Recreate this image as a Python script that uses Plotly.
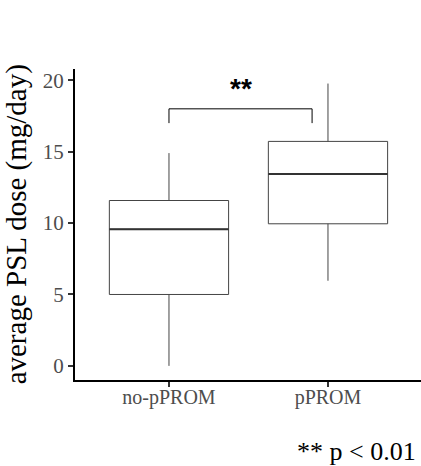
import plotly.graph_objects as go

categories = ["no-pPROM", "pPROM"]
q1 = [5.0, 9.95]
median = [9.57, 13.43]
q3 = [11.58, 15.72]
lower = [0.0, 5.96]
upper = [14.9, 19.77]

bracket_pos = [0, 0.9]
bracket_top = 18.0
bracket_bottom = 17.0
sig_label = "**"
footnote = "** p < 0.01"
y_title = "average PSL dose (mg/day)"
y_ticks = [0, 5, 10, 15, 20]

BOX_W = 0.75
fig = go.Figure()
for i, c in enumerate(categories):
    fig.add_trace(go.Box(
        x=[i], q1=[q1[i]], median=[median[i]], q3=[q3[i]],
        lowerfence=[lower[i]], upperfence=[upper[i]],
        width=BOX_W, whiskerwidth=0, boxpoints=False,
        line=dict(color="#444444", width=1), fillcolor="white",
        showlegend=False, hoverinfo="skip", name=c))
    fig.add_trace(go.Scatter(
        x=[i - BOX_W / 2, i + BOX_W / 2], y=[median[i], median[i]],
        mode="lines", line=dict(color="#333333", width=2),
        showlegend=False, hoverinfo="skip"))

fig.add_trace(go.Scatter(
    x=[bracket_pos[0], bracket_pos[0], bracket_pos[1], bracket_pos[1]],
    y=[bracket_bottom, bracket_top, bracket_top, bracket_bottom],
    mode="lines", line=dict(color="black", width=1),
    showlegend=False, hoverinfo="skip"))

fig.add_annotation(x=(bracket_pos[0] + bracket_pos[1]) / 2, y=bracket_top + 1.45,
                   text="<b>" + sig_label + "</b>", showarrow=False,
                   font=dict(family="Liberation Sans", size=28, color="black"),
                   xanchor="center", yanchor="middle")

fig.add_annotation(xref="paper", yref="paper", x=0.99, y=-0.2315,
                   text=footnote, showarrow=False,
                   font=dict(family="Liberation Serif", size=26, color="black"),
                   xanchor="right", yanchor="middle")

fig.add_annotation(xref="paper", yref="paper", x=-0.168, y=0.5,
                   text=y_title, textangle=-90, showarrow=False,
                   font=dict(family="Liberation Serif", size=29, color="black"),
                   xanchor="center", yanchor="middle")

fig.update_layout(
    width=421, height=466,
    margin=dict(l=75, r=0, t=69, b=86),
    plot_bgcolor="white", paper_bgcolor="white",
    xaxis=dict(range=[-0.591, 1.585], tickvals=[0, 1], ticktext=categories,
               showgrid=False, zeroline=False, showline=True,
               linecolor="black", linewidth=2, ticks="outside", ticklen=5,
               tickwidth=1.5, tickcolor="#333333", ticklabelstandoff=-7,
               tickfont=dict(family="Liberation Serif", size=20, color="#4d4d4d")),
    yaxis=dict(range=[-0.99, 20.79], tickvals=y_ticks,
               showgrid=False, zeroline=False, showline=True,
               linecolor="black", linewidth=2, ticks="outside", ticklen=5,
               tickwidth=1.5, tickcolor="#333333",
               tickfont=dict(family="Liberation Serif", size=21, color="#4d4d4d")),
)

fig.write_html("out.html", config={"displayModeBar": False},
               post_script="document.body.style.margin='0';document.body.style.overflow='hidden';")
